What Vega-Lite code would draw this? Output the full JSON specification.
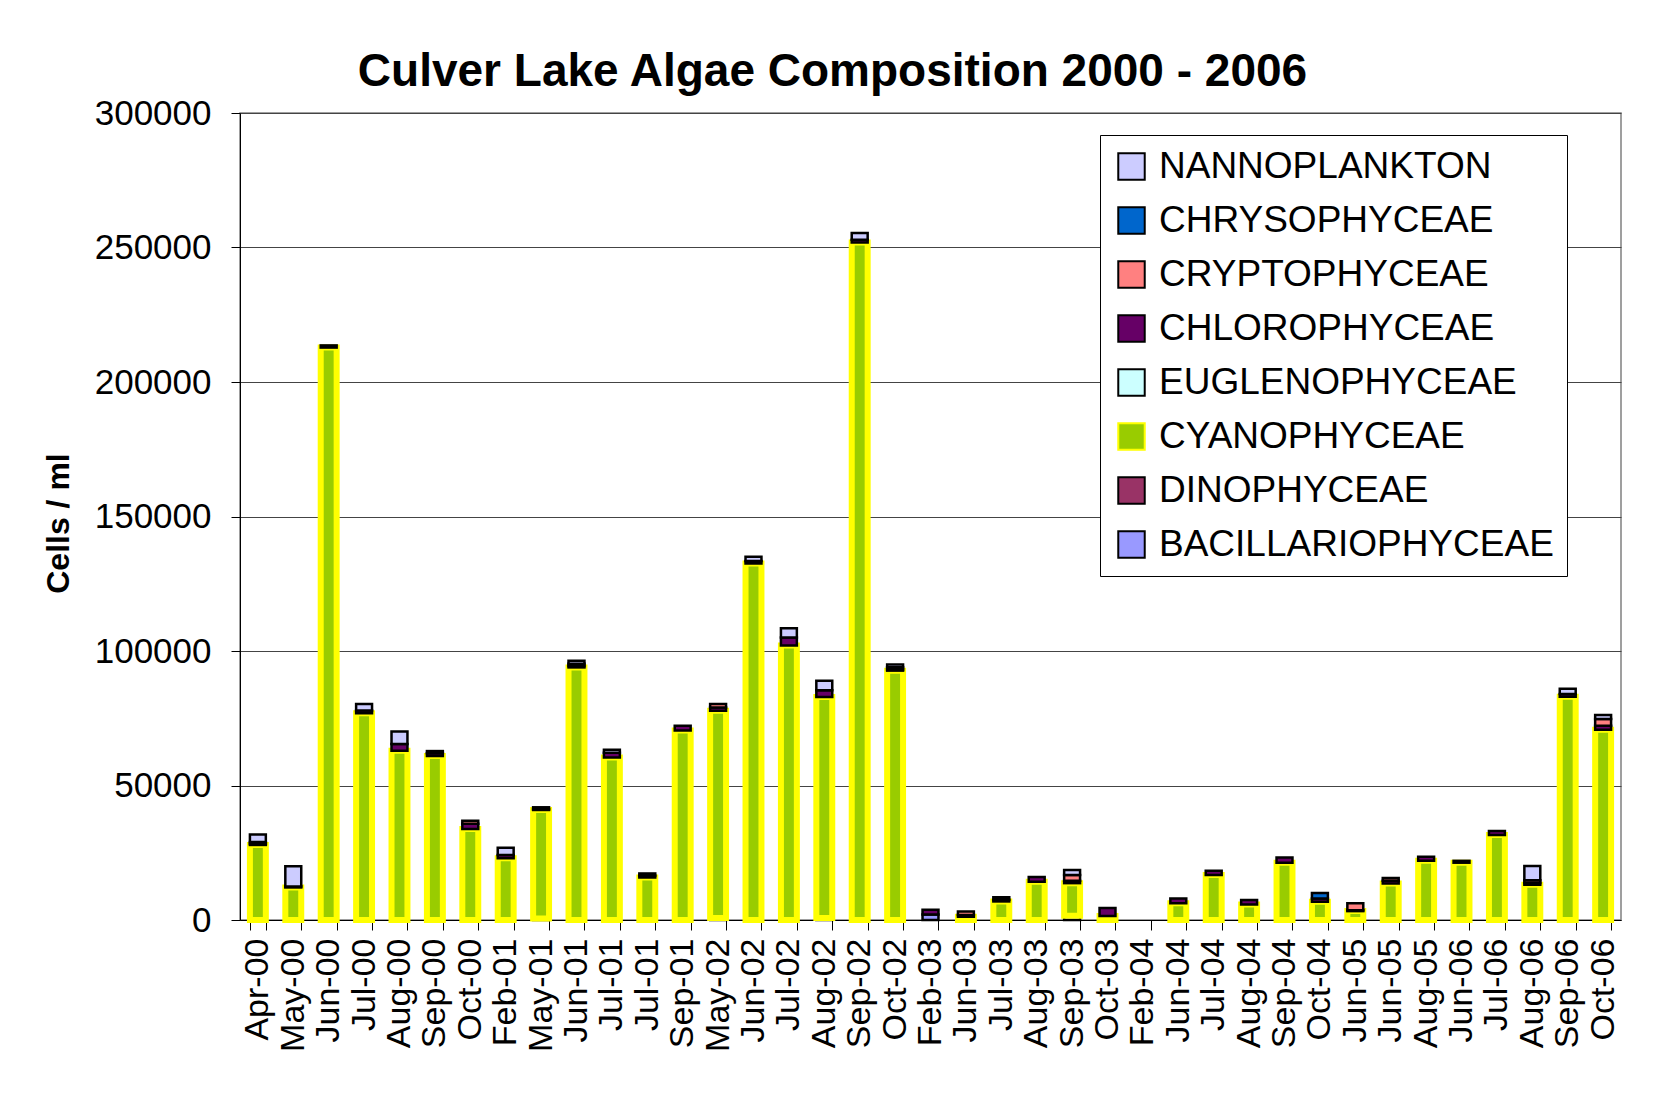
{
  "$schema": "https://vega.github.io/schema/vega-lite/v6.json",
  "autosize": "none",
  "width": 1381,
  "height": 807,
  "padding": {"left": 240, "top": 113, "right": 37, "bottom": 198},
  "background": "white",
  "title": {
    "text": "Culver Lake Algae Composition  2000 - 2006",
    "font": "Liberation Sans",
    "fontSize": 46,
    "fontWeight": "bold",
    "color": "black",
    "anchor": "middle",
    "frame": "group",
    "dx": -98,
    "baseline": "alphabetic",
    "offset": 31,
    "dy": 67
  },
  "data": {
    "values": [
      {"key": "Apr-00", "BACILLARIOPHYCEAE": 0, "DINOPHYCEAE": 0, "CYANOPHYCEAE": 27900, "EUGLENOPHYCEAE": 0, "CHLOROPHYCEAE": 400, "CRYPTOPHYCEAE": 700, "CHRYSOPHYCEAE": 0, "NANNOPLANKTON": 2800},
      {"key": "May-00", "BACILLARIOPHYCEAE": 0, "DINOPHYCEAE": 0, "CYANOPHYCEAE": 12100, "EUGLENOPHYCEAE": 0, "CHLOROPHYCEAE": 400, "CRYPTOPHYCEAE": 0, "CHRYSOPHYCEAE": 0, "NANNOPLANKTON": 7500},
      {"key": "Jun-00", "BACILLARIOPHYCEAE": 0, "DINOPHYCEAE": 0, "CYANOPHYCEAE": 212800, "EUGLENOPHYCEAE": 0, "CHLOROPHYCEAE": 800, "CRYPTOPHYCEAE": 0, "CHRYSOPHYCEAE": 0, "NANNOPLANKTON": 0},
      {"key": "Jul-00", "BACILLARIOPHYCEAE": 0, "DINOPHYCEAE": 0, "CYANOPHYCEAE": 76900, "EUGLENOPHYCEAE": 0, "CHLOROPHYCEAE": 1000, "CRYPTOPHYCEAE": 0, "CHRYSOPHYCEAE": 0, "NANNOPLANKTON": 2400},
      {"key": "Aug-00", "BACILLARIOPHYCEAE": 0, "DINOPHYCEAE": 0, "CYANOPHYCEAE": 62900, "EUGLENOPHYCEAE": 0, "CHLOROPHYCEAE": 2500, "CRYPTOPHYCEAE": 0, "CHRYSOPHYCEAE": 0, "NANNOPLANKTON": 4700},
      {"key": "Sep-00", "BACILLARIOPHYCEAE": 0, "DINOPHYCEAE": 0, "CYANOPHYCEAE": 61000, "EUGLENOPHYCEAE": 0, "CHLOROPHYCEAE": 1000, "CRYPTOPHYCEAE": 800, "CHRYSOPHYCEAE": 0, "NANNOPLANKTON": 0},
      {"key": "Oct-00", "BACILLARIOPHYCEAE": 0, "DINOPHYCEAE": 0, "CYANOPHYCEAE": 33800, "EUGLENOPHYCEAE": 0, "CHLOROPHYCEAE": 2000, "CRYPTOPHYCEAE": 1100, "CHRYSOPHYCEAE": 0, "NANNOPLANKTON": 0},
      {"key": "Feb-01", "BACILLARIOPHYCEAE": 0, "DINOPHYCEAE": 0, "CYANOPHYCEAE": 23000, "EUGLENOPHYCEAE": 0, "CHLOROPHYCEAE": 1200, "CRYPTOPHYCEAE": 0, "CHRYSOPHYCEAE": 0, "NANNOPLANKTON": 2700},
      {"key": "May-01", "BACILLARIOPHYCEAE": 600, "DINOPHYCEAE": 0, "CYANOPHYCEAE": 40300, "EUGLENOPHYCEAE": 0, "CHLOROPHYCEAE": 300, "CRYPTOPHYCEAE": 0, "CHRYSOPHYCEAE": 0, "NANNOPLANKTON": 700},
      {"key": "Jun-01", "BACILLARIOPHYCEAE": 0, "DINOPHYCEAE": 0, "CYANOPHYCEAE": 93900, "EUGLENOPHYCEAE": 0, "CHLOROPHYCEAE": 500, "CRYPTOPHYCEAE": 900, "CHRYSOPHYCEAE": 0, "NANNOPLANKTON": 1100},
      {"key": "Jul-01", "BACILLARIOPHYCEAE": 0, "DINOPHYCEAE": 0, "CYANOPHYCEAE": 60400, "EUGLENOPHYCEAE": 0, "CHLOROPHYCEAE": 1800, "CRYPTOPHYCEAE": 0, "CHRYSOPHYCEAE": 0, "NANNOPLANKTON": 1100},
      {"key": "Jul-01#2", "BACILLARIOPHYCEAE": 0, "DINOPHYCEAE": 0, "CYANOPHYCEAE": 15800, "EUGLENOPHYCEAE": 0, "CHLOROPHYCEAE": 700, "CRYPTOPHYCEAE": 800, "CHRYSOPHYCEAE": 0, "NANNOPLANKTON": 0},
      {"key": "Sep-01", "BACILLARIOPHYCEAE": 0, "DINOPHYCEAE": 0, "CYANOPHYCEAE": 70400, "EUGLENOPHYCEAE": 0, "CHLOROPHYCEAE": 1800, "CRYPTOPHYCEAE": 0, "CHRYSOPHYCEAE": 0, "NANNOPLANKTON": 0},
      {"key": "May-02", "BACILLARIOPHYCEAE": 700, "DINOPHYCEAE": 0, "CYANOPHYCEAE": 77100, "EUGLENOPHYCEAE": 0, "CHLOROPHYCEAE": 1200, "CRYPTOPHYCEAE": 1300, "CHRYSOPHYCEAE": 0, "NANNOPLANKTON": 0},
      {"key": "Jun-02", "BACILLARIOPHYCEAE": 0, "DINOPHYCEAE": 0, "CYANOPHYCEAE": 132500, "EUGLENOPHYCEAE": 0, "CHLOROPHYCEAE": 1000, "CRYPTOPHYCEAE": 0, "CHRYSOPHYCEAE": 0, "NANNOPLANKTON": 1500},
      {"key": "Jul-02", "BACILLARIOPHYCEAE": 0, "DINOPHYCEAE": 0, "CYANOPHYCEAE": 102000, "EUGLENOPHYCEAE": 0, "CHLOROPHYCEAE": 3000, "CRYPTOPHYCEAE": 0, "CHRYSOPHYCEAE": 0, "NANNOPLANKTON": 3500},
      {"key": "Aug-02", "BACILLARIOPHYCEAE": 700, "DINOPHYCEAE": 0, "CYANOPHYCEAE": 82200, "EUGLENOPHYCEAE": 0, "CHLOROPHYCEAE": 2500, "CRYPTOPHYCEAE": 0, "CHRYSOPHYCEAE": 0, "NANNOPLANKTON": 3500},
      {"key": "Sep-02", "BACILLARIOPHYCEAE": 0, "DINOPHYCEAE": 0, "CYANOPHYCEAE": 251900, "EUGLENOPHYCEAE": 0, "CHLOROPHYCEAE": 1000, "CRYPTOPHYCEAE": 0, "CHRYSOPHYCEAE": 0, "NANNOPLANKTON": 2500},
      {"key": "Oct-02", "BACILLARIOPHYCEAE": 0, "DINOPHYCEAE": 0, "CYANOPHYCEAE": 92700, "EUGLENOPHYCEAE": 0, "CHLOROPHYCEAE": 400, "CRYPTOPHYCEAE": 900, "CHRYSOPHYCEAE": 0, "NANNOPLANKTON": 1000},
      {"key": "Feb-03", "BACILLARIOPHYCEAE": 2000, "DINOPHYCEAE": 0, "CYANOPHYCEAE": 0, "EUGLENOPHYCEAE": 0, "CHLOROPHYCEAE": 1800, "CRYPTOPHYCEAE": 0, "CHRYSOPHYCEAE": 0, "NANNOPLANKTON": 0},
      {"key": "Jun-03", "BACILLARIOPHYCEAE": 0, "DINOPHYCEAE": 0, "CYANOPHYCEAE": 1200, "EUGLENOPHYCEAE": 0, "CHLOROPHYCEAE": 700, "CRYPTOPHYCEAE": 1300, "CHRYSOPHYCEAE": 0, "NANNOPLANKTON": 0},
      {"key": "Jul-03", "BACILLARIOPHYCEAE": 0, "DINOPHYCEAE": 0, "CYANOPHYCEAE": 6900, "EUGLENOPHYCEAE": 0, "CHLOROPHYCEAE": 600, "CRYPTOPHYCEAE": 1000, "CHRYSOPHYCEAE": 0, "NANNOPLANKTON": 0},
      {"key": "Aug-03", "BACILLARIOPHYCEAE": 0, "DINOPHYCEAE": 0, "CYANOPHYCEAE": 14200, "EUGLENOPHYCEAE": 0, "CHLOROPHYCEAE": 1800, "CRYPTOPHYCEAE": 0, "CHRYSOPHYCEAE": 0, "NANNOPLANKTON": 0},
      {"key": "Sep-03", "BACILLARIOPHYCEAE": 1600, "DINOPHYCEAE": 0, "CYANOPHYCEAE": 12100, "EUGLENOPHYCEAE": 0, "CHLOROPHYCEAE": 900, "CRYPTOPHYCEAE": 2100, "CHRYSOPHYCEAE": 0, "NANNOPLANKTON": 1900},
      {"key": "Oct-03", "BACILLARIOPHYCEAE": 0, "DINOPHYCEAE": 0, "CYANOPHYCEAE": 1500, "EUGLENOPHYCEAE": 0, "CHLOROPHYCEAE": 3000, "CRYPTOPHYCEAE": 0, "CHRYSOPHYCEAE": 0, "NANNOPLANKTON": 0},
      {"key": "Feb-04", "BACILLARIOPHYCEAE": 0, "DINOPHYCEAE": 0, "CYANOPHYCEAE": 0, "EUGLENOPHYCEAE": 0, "CHLOROPHYCEAE": 0, "CRYPTOPHYCEAE": 0, "CHRYSOPHYCEAE": 0, "NANNOPLANKTON": 0},
      {"key": "Jun-04", "BACILLARIOPHYCEAE": 0, "DINOPHYCEAE": 0, "CYANOPHYCEAE": 6200, "EUGLENOPHYCEAE": 0, "CHLOROPHYCEAE": 1800, "CRYPTOPHYCEAE": 0, "CHRYSOPHYCEAE": 0, "NANNOPLANKTON": 0},
      {"key": "Jul-04", "BACILLARIOPHYCEAE": 0, "DINOPHYCEAE": 0, "CYANOPHYCEAE": 16700, "EUGLENOPHYCEAE": 0, "CHLOROPHYCEAE": 1600, "CRYPTOPHYCEAE": 0, "CHRYSOPHYCEAE": 0, "NANNOPLANKTON": 0},
      {"key": "Aug-04", "BACILLARIOPHYCEAE": 0, "DINOPHYCEAE": 0, "CYANOPHYCEAE": 5800, "EUGLENOPHYCEAE": 0, "CHLOROPHYCEAE": 1600, "CRYPTOPHYCEAE": 0, "CHRYSOPHYCEAE": 0, "NANNOPLANKTON": 0},
      {"key": "Sep-04", "BACILLARIOPHYCEAE": 0, "DINOPHYCEAE": 0, "CYANOPHYCEAE": 21300, "EUGLENOPHYCEAE": 0, "CHLOROPHYCEAE": 1900, "CRYPTOPHYCEAE": 0, "CHRYSOPHYCEAE": 0, "NANNOPLANKTON": 0},
      {"key": "Oct-04", "BACILLARIOPHYCEAE": 0, "DINOPHYCEAE": 0, "CYANOPHYCEAE": 6800, "EUGLENOPHYCEAE": 0, "CHLOROPHYCEAE": 1200, "CRYPTOPHYCEAE": 0, "CHRYSOPHYCEAE": 2000, "NANNOPLANKTON": 0},
      {"key": "Jun-05", "BACILLARIOPHYCEAE": 0, "DINOPHYCEAE": 0, "CYANOPHYCEAE": 3300, "EUGLENOPHYCEAE": 0, "CHLOROPHYCEAE": 300, "CRYPTOPHYCEAE": 2600, "CHRYSOPHYCEAE": 0, "NANNOPLANKTON": 0},
      {"key": "Jun-05#2", "BACILLARIOPHYCEAE": 0, "DINOPHYCEAE": 0, "CYANOPHYCEAE": 13600, "EUGLENOPHYCEAE": 0, "CHLOROPHYCEAE": 1000, "CRYPTOPHYCEAE": 1000, "CHRYSOPHYCEAE": 0, "NANNOPLANKTON": 0},
      {"key": "Aug-05", "BACILLARIOPHYCEAE": 0, "DINOPHYCEAE": 0, "CYANOPHYCEAE": 22000, "EUGLENOPHYCEAE": 0, "CHLOROPHYCEAE": 1500, "CRYPTOPHYCEAE": 0, "CHRYSOPHYCEAE": 0, "NANNOPLANKTON": 0},
      {"key": "Jun-06", "BACILLARIOPHYCEAE": 0, "DINOPHYCEAE": 0, "CYANOPHYCEAE": 21300, "EUGLENOPHYCEAE": 0, "CHLOROPHYCEAE": 700, "CRYPTOPHYCEAE": 0, "CHRYSOPHYCEAE": 0, "NANNOPLANKTON": 0},
      {"key": "Jul-06", "BACILLARIOPHYCEAE": 0, "DINOPHYCEAE": 0, "CYANOPHYCEAE": 31600, "EUGLENOPHYCEAE": 0, "CHLOROPHYCEAE": 1500, "CRYPTOPHYCEAE": 0, "CHRYSOPHYCEAE": 0, "NANNOPLANKTON": 0},
      {"key": "Aug-06", "BACILLARIOPHYCEAE": 0, "DINOPHYCEAE": 0, "CYANOPHYCEAE": 13100, "EUGLENOPHYCEAE": 0, "CHLOROPHYCEAE": 700, "CRYPTOPHYCEAE": 1000, "CHRYSOPHYCEAE": 0, "NANNOPLANKTON": 5300},
      {"key": "Sep-06", "BACILLARIOPHYCEAE": 0, "DINOPHYCEAE": 0, "CYANOPHYCEAE": 83000, "EUGLENOPHYCEAE": 0, "CHLOROPHYCEAE": 1000, "CRYPTOPHYCEAE": 0, "CHRYSOPHYCEAE": 0, "NANNOPLANKTON": 2000},
      {"key": "Oct-06", "BACILLARIOPHYCEAE": 0, "DINOPHYCEAE": 0, "CYANOPHYCEAE": 70700, "EUGLENOPHYCEAE": 0, "CHLOROPHYCEAE": 1500, "CRYPTOPHYCEAE": 2500, "CHRYSOPHYCEAE": 0, "NANNOPLANKTON": 1500}
    ]
  },
  "transform": [
    {"fold": ["BACILLARIOPHYCEAE", "DINOPHYCEAE", "CYANOPHYCEAE", "EUGLENOPHYCEAE", "CHLOROPHYCEAE", "CRYPTOPHYCEAE", "CHRYSOPHYCEAE", "NANNOPLANKTON"], "as": ["group", "value"]},
    {"calculate": "indexof(['BACILLARIOPHYCEAE','DINOPHYCEAE','CYANOPHYCEAE','EUGLENOPHYCEAE','CHLOROPHYCEAE','CRYPTOPHYCEAE','CHRYSOPHYCEAE','NANNOPLANKTON'], datum.group)", "as": "rank"}
  ],
  "mark": {"type": "bar"},
  "encoding": {
    "x": {
      "field": "key",
      "type": "nominal",
      "sort": null,
      "scale": {"paddingInner": 0.55, "paddingOuter": 0.28},
      "axis": {
        "title": null,
        "labelExpr": "slice(datum.label, 0, 6)",
        "labelAngle": 270,
        "labelFont": "Liberation Sans",
        "labelFontSize": 34,
        "labelColor": "black",
        "labelPadding": 8,
        "tickBand": "extent",
        "tickSize": 10,
        "tickColor": "black",
        "domainColor": "black",
        "grid": false
      }
    },
    "y": {
      "field": "value",
      "type": "quantitative",
      "stack": "zero",
      "scale": {"domain": [0, 300000], "nice": false},
      "axis": {
        "title": "Cells / ml",
        "titleFont": "Liberation Sans",
        "titleFontSize": 32,
        "titleFontWeight": "bold",
        "titleColor": "black",
        "titleX": -182,
        "titleY": 410,
        "titleAlign": "center",
        "titleBaseline": "middle",
        "titleAngle": 270,
        "values": [0, 50000, 100000, 150000, 200000, 250000, 300000],
        "format": "d",
        "labelFont": "Liberation Sans",
        "labelFontSize": 35,
        "labelColor": "black",
        "labelPadding": 20,
        "tickSize": 9,
        "tickColor": "black",
        "domainColor": "black",
        "grid": true,
        "gridColor": "#444444",
        "gridWidth": 1.2
      }
    },
    "order": {"field": "rank", "type": "quantitative"},
    "color": {
      "field": "group",
      "type": "nominal",
      "scale": {
        "domain": ["NANNOPLANKTON", "CHRYSOPHYCEAE", "CRYPTOPHYCEAE", "CHLOROPHYCEAE", "EUGLENOPHYCEAE", "CYANOPHYCEAE", "DINOPHYCEAE", "BACILLARIOPHYCEAE"],
        "range": ["#CCCCFF", "#0066CC", "#FF8080", "#660066", "#CCFFFF", "#99CC00", "#993366", "#9999FF"]
      },
      "legend": {
        "title": null,
        "orient": "none",
        "legendX": 860,
        "legendY": 22,
        "direction": "vertical",
        "symbolType": "square",
        "symbolSize": 700,
        "symbolStrokeWidth": 2,
        "labelFont": "Liberation Sans",
        "labelFontSize": 37,
        "labelColor": "black",
        "labelOffset": 9,
        "rowPadding": 16,
        "padding": 13,
        "strokeColor": "black",
        "fillColor": "white",
        "labelLimit": 600
      }
    },
    "stroke": {
      "field": "group",
      "type": "nominal",
      "scale": {
        "domain": ["NANNOPLANKTON", "CHRYSOPHYCEAE", "CRYPTOPHYCEAE", "CHLOROPHYCEAE", "EUGLENOPHYCEAE", "CYANOPHYCEAE", "DINOPHYCEAE", "BACILLARIOPHYCEAE"],
        "range": ["#000000", "#000000", "#000000", "#000000", "#000000", "#FFFF00", "#000000", "#000000"]
      },
      "legend": {
        "title": null,
        "orient": "none",
        "legendX": 860,
        "legendY": 22,
        "direction": "vertical",
        "symbolType": "square",
        "symbolSize": 700,
        "symbolStrokeWidth": 2,
        "labelFont": "Liberation Sans",
        "labelFontSize": 37,
        "labelColor": "black",
        "labelOffset": 9,
        "rowPadding": 16,
        "padding": 13,
        "strokeColor": "black",
        "fillColor": "white",
        "labelLimit": 600
      }
    },
    "strokeWidth": {
      "condition": [
        {"test": "datum.value <= 0", "value": 0},
        {"test": "datum.group === 'CYANOPHYCEAE'", "value": 6}
      ],
      "value": 2.5
    }
  },
  "config": {
    "view": {"stroke": "#808080", "strokeWidth": 1.5},
    "font": "Liberation Sans"
  }
}
